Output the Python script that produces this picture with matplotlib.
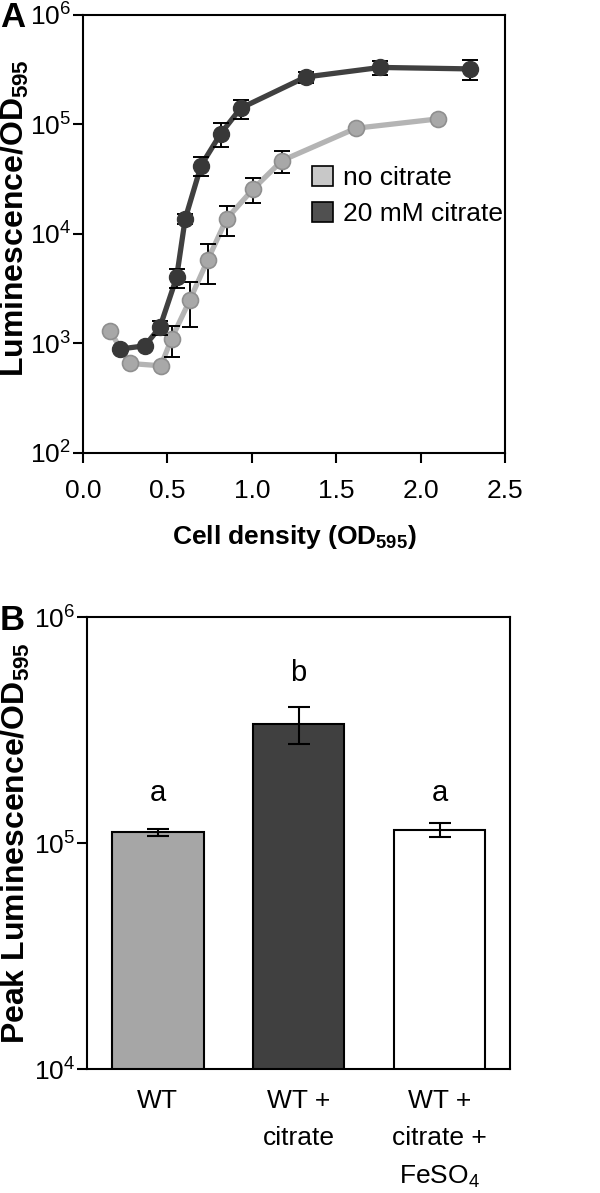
import matplotlib
matplotlib.use("Agg")
import matplotlib.pyplot as plt
from matplotlib.patches import Patch
from matplotlib.ticker import FixedLocator, NullLocator

plt.rcParams['font.family'] = ['Liberation Sans', 'DejaVu Sans']
plt.rcParams['mathtext.fontset'] = 'custom'
plt.rcParams['mathtext.rm'] = 'Liberation Sans'
plt.rcParams['mathtext.it'] = 'Liberation Sans:italic'
plt.rcParams['mathtext.bf'] = 'Liberation Sans:bold'

# ---- Panel A data ----
od_none = [0.16, 0.278, 0.462, 0.525, 0.634, 0.74, 0.851, 1.009, 1.179, 1.617, 2.105]
lum_none = [1300, 656, 625, 1100, 2500, 5800, 13700, 25700, 46600, 92000, 112000]
err_none = [0, 0, 0, 350, 1100, 2350, 4200, 6500, 11000, 0, 0]

od_cit = [0.223, 0.367, 0.456, 0.555, 0.606, 0.70, 0.816, 0.934, 1.32, 1.76, 2.29]
lum_cit = [890, 950, 1400, 4000, 13700, 42000, 82000, 140000, 270000, 330000, 320000]
err_cit = [0, 0, 200, 800, 1500, 8500, 20000, 28000, 30000, 50000, 65000]

series_labels = ['no citrate', '20 mM citrate']

# ---- Panel B data ----
groups = ['WT', 'WT +\ncitrate', 'WT +\ncitrate +\nFeSO$_4$']
peak = [112000, 337000, 115000]
peak_err = [4000, 63000, 8500]
letters = ['a', 'b', 'a']
letter_y = [167000, 565000, 167000]

c_light_line = '#b4b4b4'
c_light_mk = '#a8a8a8'
c_light_edge = '#8f8f8f'
c_dark_line = '#404040'
c_dark_mk = '#383838'

TICK_FS = 19
YLAB_FS = 23

fig = plt.figure(figsize=(6.0, 11.93), dpi=100)

# ---------- Panel A ----------
axA = fig.add_axes([0.138, 0.6203, 0.704, 0.3674])
axA.plot(od_none, lum_none, '-', color=c_light_line, lw=3.8, zorder=2)
axA.errorbar(od_none, lum_none, yerr=err_none, fmt='none', ecolor='black',
             elinewidth=1.4, capsize=6, capthick=1.4, zorder=3)
axA.plot(od_none, lum_none, 'o', ms=11.5, mfc=c_light_mk, mec=c_light_edge, mew=1.2, zorder=4)

axA.plot(od_cit, lum_cit, '-', color=c_dark_line, lw=3.8, zorder=5)
axA.errorbar(od_cit, lum_cit, yerr=err_cit, fmt='none', ecolor='black',
             elinewidth=1.4, capsize=6, capthick=1.4, zorder=6)
axA.plot(od_cit, lum_cit, 'o', ms=11.5, mfc=c_dark_mk, mec=c_dark_mk, mew=1.0, zorder=7)

axA.set_yscale('log')
axA.set_ylim(1e2, 1e6)
axA.set_xlim(0, 2.5)
axA.set_xticks([0.0, 0.5, 1.0, 1.5, 2.0, 2.5])
axA.set_xticklabels(['0.0', '0.5', '1.0', '1.5', '2.0', '2.5'])
axA.yaxis.set_major_locator(FixedLocator([1e2, 1e3, 1e4, 1e5, 1e6]))
axA.yaxis.set_minor_locator(NullLocator())
axA.set_yticklabels([r'$\mathregular{10^{%d}}$' % k for k in range(2, 7)])
axA.tick_params(axis='both', which='major', direction='out', length=7, width=1.5,
                labelsize=TICK_FS, pad=1.5)
axA.tick_params(axis='x', pad=12)
for s in axA.spines.values():
    s.set_linewidth(1.5)
axA.set_xlabel(r'Cell density (OD$_{\mathbf{595}}$)', fontsize=19, fontweight='bold', labelpad=14)
axA.set_ylabel(r'Luminescence/OD$_{\mathbf{595}}$', fontsize=YLAB_FS, fontweight='bold')
axA.yaxis.set_label_coords(-0.122, 0.535)

handles = [Patch(facecolor='#c8c8c8', edgecolor='black', lw=1.2),
           Patch(facecolor='#505050', edgecolor='black', lw=1.2)]
axA.legend(handles, series_labels, loc='upper left', bbox_to_anchor=(0.543, 0.655),
           frameon=False, fontsize=19, handlelength=0.8, handleheight=0.8,
           handletextpad=0.35, labelspacing=0.45, borderaxespad=0, borderpad=0)

fig.text(0.0, 0.999, 'A', fontsize=25, fontweight='bold', va='top', ha='left')

# ---------- Panel B ----------
axB = fig.add_axes([0.1455, 0.1037, 0.7045, 0.3789])
xpos = list(range(len(groups)))
axB.bar(xpos, peak, width=0.65, color=['#a6a6a6', '#404040', '#ffffff'],
        edgecolor='black', linewidth=1.5, zorder=2)
axB.errorbar(xpos, peak, yerr=peak_err, fmt='none', ecolor='black',
             elinewidth=1.5, capsize=8, capthick=1.5, zorder=3)
for xi, lt, ly in zip(xpos, letters, letter_y):
    axB.text(xi, ly, lt, ha='center', va='center', fontsize=21)

axB.set_yscale('log')
axB.set_ylim(1e4, 1e6)
axB.set_xlim(-0.5, 2.5)
axB.yaxis.set_major_locator(FixedLocator([1e4, 1e5, 1e6]))
axB.yaxis.set_minor_locator(NullLocator())
axB.set_yticklabels([r'$\mathregular{10^{%d}}$' % k for k in range(4, 7)])
axB.set_xticks(xpos)
axB.set_xticklabels(groups, fontsize=19, va='top', linespacing=1.7)
axB.tick_params(axis='x', length=0, pad=14)
axB.tick_params(axis='y', direction='out', length=7, width=1.5, labelsize=TICK_FS, pad=1.5)
for s in axB.spines.values():
    s.set_linewidth(1.5)
axB.set_ylabel(r'Peak Luminescence/OD$_{\mathbf{595}}$', fontsize=YLAB_FS, fontweight='bold')
axB.yaxis.set_label_coords(-0.131, 0.5)

fig.text(0.0, 0.494, 'B', fontsize=25, fontweight='bold', va='top', ha='left')

fig.savefig('out.png', dpi=100)
